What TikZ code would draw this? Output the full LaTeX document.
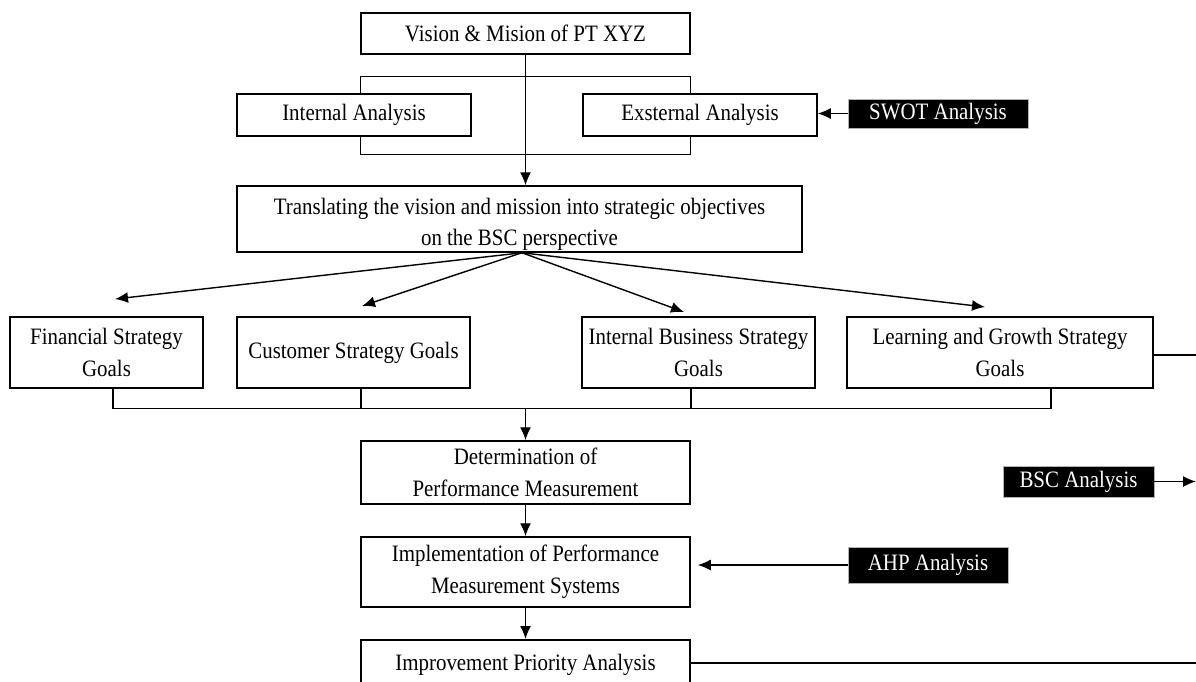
\documentclass[tikz,border=0pt]{standalone}
\usepackage{fontspec}
\setmainfont[FakeStretch=0.89]{Liberation Serif}
\usetikzlibrary{arrows.meta}
\begin{document}
\begin{tikzpicture}[x=1pt,y=-1pt,
  every node/.style={font=\fontsize{23.5}{32}\selectfont},
  box/.style={draw, line width=1.5pt, rectangle, inner sep=0pt, align=center},
  blackbox/.style={draw=gray!60, line width=0.8pt, fill=black, text=white, rectangle, inner sep=0pt, align=center},
  conn/.style={line width=1.4pt},
  arr/.style={line width=1.4pt, -{Latex[length=13pt,width=11pt]}}]
\useasboundingbox (0,0) rectangle (1196,681);
\clip (0,0) rectangle (1196,681);

% nodes
\node[box, minimum width=329, minimum height=41] (vision) at (525.5,33.5) {Vision \& Mision of PT XYZ};
\node[box, minimum width=234, minimum height=42] (internal) at (354,115) {Internal Analysis};
\node[box, minimum width=234, minimum height=42] (external) at (700,115) {Exsternal Analysis};
\node[blackbox, minimum width=180, minimum height=29] (swot) at (938,113.5) {SWOT Analysis};
\node[draw, line width=1.5pt, rectangle, inner sep=0pt, minimum width=565, minimum height=66] (translate) at (519.5,219)
  {\raisebox{-5pt}[\height][\depth]{\begin{tabular}{@{}c@{}}Translating the vision and mission into strategic objectives\\[-1pt]on the BSC perspective\end{tabular}}};
\node[box, minimum width=193, minimum height=71] (financial) at (106.5,352.5) {Financial Strategy\\Goals};
\node[box, minimum width=233, minimum height=71] (customer) at (353.5,352.5) {Customer Strategy Goals};
\node[box, minimum width=233, minimum height=71] (business) at (698.5,352.5) {Internal Business Strategy\\Goals};
\node[box, minimum width=306, minimum height=71] (learning) at (1000,352.5) {Learning and Growth Strategy\\Goals};
\node[box, minimum width=329, minimum height=63] (determ) at (525.5,472.5) {Determination of\\Performance Measurement};
\node[box, minimum width=329, minimum height=70] (implem) at (525.5,572) {Implementation of Performance\\Measurement Systems};
\node[box, minimum width=329, minimum height=51, anchor=north] (improve) at (525.5,639) {Improvement Priority Analysis};
\node[blackbox, minimum width=151, minimum height=31] (bsc) at (1078.5,481.5) {BSC Analysis};
\node[blackbox, minimum width=160, minimum height=36] (ahp) at (928,565) {AHP Analysis};

% free-end coordinates
\coordinate (fin) at (115,299);
\coordinate (cus) at (362,306);
\coordinate (bus) at (684,312);
\coordinate (lea) at (985,307);
\coordinate (join) at (525.5,408);
\coordinate (edgeA) at (1200,355);
\coordinate (edgeB) at (1196,481.5);
\coordinate (edgeC) at (1200,663);

% vision to translating
\draw[arr] (vision.south) -- (vision.south |- translate.north);
% bracket around internal/external
\draw[conn] (internal.north -| vision.south west) -- ++(0,-17) -| (external.north -| vision.south east);
\draw[conn] (internal.south -| vision.south west) -- ++(0,18) -| (external.south -| vision.south east);
% swot
\draw[arr] (swot.west) -- (swot.west -| external.east);

% fan
\draw[arr] ([xshift=2.5]translate.south) -- (fin);
\draw[arr] ([xshift=2.5]translate.south) -- (cus);
\draw[arr] ([xshift=2.5]translate.south) -- (bus);
\draw[arr] ([xshift=2.5]translate.south) -- (lea);

% goals bracket
\draw[conn] ([xshift=6.5]financial.south) -- ++(0,20) -| ([xshift=51]learning.south);
\draw[conn] ([xshift=7.5]customer.south) -- ++(0,20);
\draw[conn] ([xshift=-7.5]business.south) -- ++(0,20);
\draw[arr] (join) -- (determ.north);

\draw[conn] (learning.east |- edgeA) -- (edgeA);

\draw[arr] (determ.south) -- (implem.north);
\draw[arr] (implem.south) -- (improve.north);
\draw[arr, shorten >=7pt] (ahp.west) -- (ahp.west -| implem.east);
\draw[arr] (bsc.east) -- (edgeB);
\draw[conn] (improve.east |- edgeC) -- (edgeC);
\end{tikzpicture}
\end{document}
